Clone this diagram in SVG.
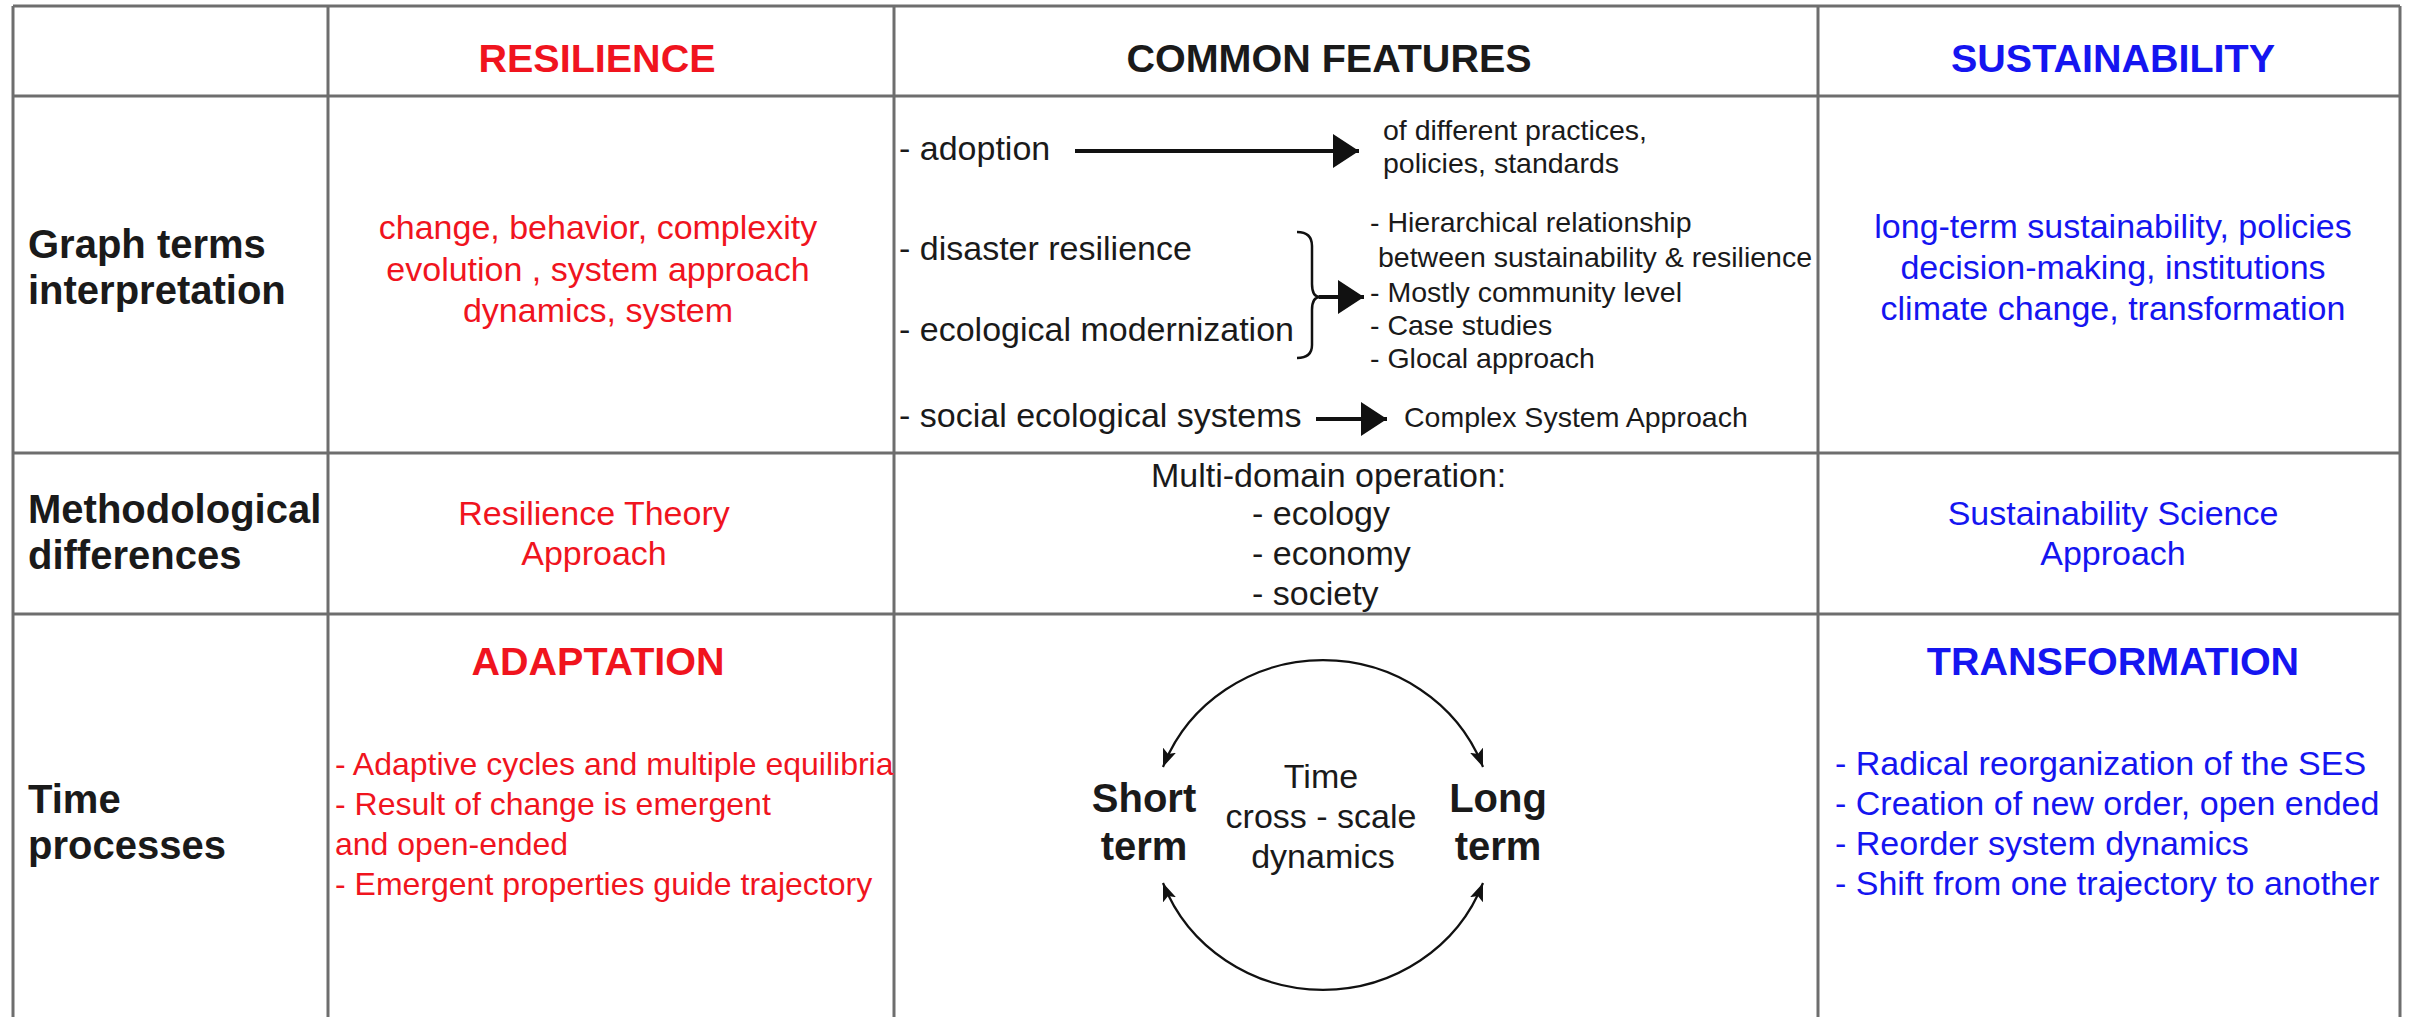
<svg xmlns="http://www.w3.org/2000/svg" width="2410" height="1017" viewBox="0 0 2410 1017">
<style>
text{font-family:"Liberation Sans",Arial,sans-serif;fill:#1a1a1a}
.hd{font-size:39.5px;font-weight:bold;text-anchor:middle}
.rl{font-size:40px;font-weight:bold}
.red{fill:#f0141e}
.blue{fill:#1515f0}
.b34{font-size:34px}
.b32{font-size:32px}
.s28{font-size:28.5px}
.c{text-anchor:middle}
.grid{stroke:#6e6e6e;stroke-width:3;fill:none}
.conn{stroke:#111;fill:none}
</style>
<defs>
<marker id="big" markerUnits="userSpaceOnUse" markerWidth="26" markerHeight="34" refX="26" refY="17" orient="auto">
<path d="M0,0 L26,17 L0,34 z" fill="#111"/>
</marker>
<marker id="small" markerUnits="userSpaceOnUse" markerWidth="18" markerHeight="14" refX="18" refY="7" orient="auto-start-reverse">
<path d="M0,0 L18,7 L0,14 L4,7 z" fill="#111"/>
</marker>
</defs>
<rect width="2410" height="1017" fill="#fff"/>
<g id="grid" class="grid">
<line x1="13" y1="6" x2="2400" y2="6"/>
<line x1="13" y1="6" x2="13" y2="1017"/>
<line x1="2400" y1="6" x2="2400" y2="1017"/>
<line x1="328" y1="6" x2="328" y2="1017"/>
<line x1="894" y1="6" x2="894" y2="1017"/>
<line x1="1818" y1="6" x2="1818" y2="1017"/>
<line x1="13" y1="96" x2="2400" y2="96"/>
<line x1="13" y1="453" x2="2400" y2="453"/>
<line x1="13" y1="614" x2="2400" y2="614"/>
</g>
<g id="header-resilience"><text class="hd red" x="597" y="72">RESILIENCE</text></g>
<g id="header-common"><text class="hd" x="1329" y="72">COMMON FEATURES</text></g>
<g id="header-sustainability"><text class="hd blue" x="2113" y="72">SUSTAINABILITY</text></g>
<g id="label-graph"><text class="rl" x="28" y="258">Graph terms</text><text class="rl" x="28" y="304">interpretation</text></g>
<g id="label-method"><text class="rl" x="28" y="523">Methodological</text><text class="rl" x="28" y="569">differences</text></g>
<g id="label-time"><text class="rl" x="28" y="813">Time</text><text class="rl" x="28" y="859">processes</text></g>
<g id="res-graph">
<text class="b34 red c" x="598" y="239">change, behavior, complexity</text>
<text class="b34 red c" x="598" y="281">evolution , system approach</text>
<text class="b34 red c" x="598" y="322">dynamics, system</text>
</g>
<g id="common-graph">
<text class="b34" x="899" y="160">- adoption</text>
<text class="s28" x="1383" y="140">of different practices,</text>
<text class="s28" x="1383" y="173">policies, standards</text>
<text class="b34" x="899" y="260">- disaster resilience</text>
<text class="b34" x="899" y="341">- ecological modernization</text>
<text class="s28" x="1370" y="232">- Hierarchical relationship</text>
<text class="s28" x="1378" y="267">between sustainability &amp; resilience</text>
<text class="s28" x="1370" y="302">- Mostly community level</text>
<text class="s28" x="1370" y="335">- Case studies</text>
<text class="s28" x="1370" y="368">- Glocal approach</text>
<text class="b34" x="899" y="427">- social ecological systems</text>
<text class="s28" x="1404" y="427">Complex System Approach</text>
</g>
<g id="sus-graph">
<text class="b34 blue c" x="2113" y="238">long-term sustainability, policies</text>
<text class="b34 blue c" x="2113" y="279">decision-making, institutions</text>
<text class="b34 blue c" x="2113" y="320">climate change, transformation</text>
</g>
<g id="res-method">
<text class="b34 red c" x="594" y="525">Resilience Theory</text>
<text class="b34 red c" x="594" y="565">Approach</text>
</g>
<g id="common-method">
<text class="b34" x="1151" y="487">Multi-domain operation:</text>
<text class="b34" x="1252" y="525">- ecology</text>
<text class="b34" x="1252" y="565">- economy</text>
<text class="b34" x="1252" y="605">- society</text>
</g>
<g id="sus-method">
<text class="b34 blue c" x="2113" y="525">Sustainability Science</text>
<text class="b34 blue c" x="2113" y="565">Approach</text>
</g>
<g id="res-time">
<text class="hd red" x="598" y="675">ADAPTATION</text>
<text class="b32 red" x="335" y="775">- Adaptive cycles and multiple equilibria</text>
<text class="b32 red" x="335" y="815">- Result of change is emergent</text>
<text class="b32 red" x="335" y="855">and open-ended</text>
<text class="b32 red" x="335" y="895">- Emergent properties guide trajectory</text>
</g>
<g id="common-time">
<text class="rl c" x="1144" y="812">Short</text>
<text class="rl c" x="1144" y="860">term</text>
<text class="rl c" x="1498" y="812">Long</text>
<text class="rl c" x="1498" y="860">term</text>
<text class="b34 c" x="1321" y="788">Time</text>
<text class="b34 c" x="1321" y="828">cross - scale</text>
<text class="b34 c" x="1323" y="868">dynamics</text>
</g>
<g id="sus-time">
<text class="hd blue" x="2113" y="675">TRANSFORMATION</text>
<text class="b34 blue" x="1835" y="775">- Radical reorganization of the SES</text>
<text class="b34 blue" x="1835" y="815">- Creation of new order, open ended</text>
<text class="b34 blue" x="1835" y="855">- Reorder system dynamics</text>
<text class="b34 blue" x="1835" y="895">- Shift from one trajectory to another</text>
</g>
<g id="connectors" class="conn">
<line x1="1075" y1="151" x2="1359" y2="151" stroke-width="4" marker-end="url(#big)"/>
<path d="M1297,232 Q1312,232 1312,246 L1312,284 Q1312,297 1320,297 Q1312,297 1312,310 L1312,345 Q1312,358 1297,358" stroke-width="2.5"/>
<line x1="1319" y1="297" x2="1364" y2="297" stroke-width="4" marker-end="url(#big)"/>
<line x1="1316" y1="419" x2="1387" y2="419" stroke-width="4" marker-end="url(#big)"/>
<path d="M1163,767 A171,165 0 0 1 1483,767" stroke-width="2.2" marker-start="url(#small)" marker-end="url(#small)"/>
<path d="M1163,883 A171,165 0 0 0 1483,883" stroke-width="2.2" marker-start="url(#small)" marker-end="url(#small)"/>
</g>
</svg>
